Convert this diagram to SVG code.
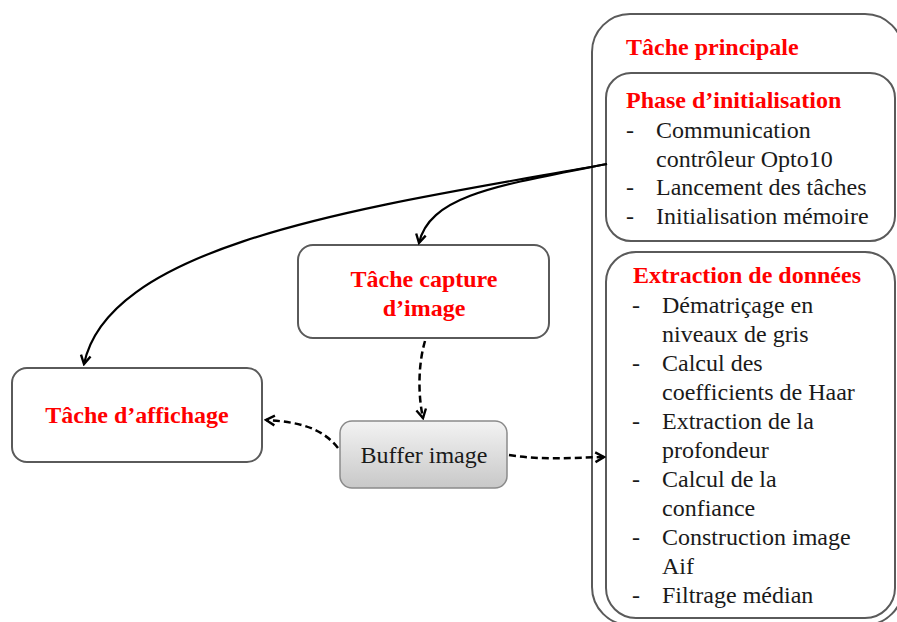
<svg xmlns="http://www.w3.org/2000/svg" width="897" height="622" viewBox="0 0 897 622">
<defs>
<style>
.box{fill:#fff;stroke:#5a5a5a;stroke-width:2}
.hd{font-family:"Liberation Serif","Times New Roman",serif;font-weight:bold;font-size:24px;fill:#ff0000}
.tx{font-family:"Liberation Serif","Times New Roman",serif;font-size:24px;fill:#1a1a1a}
.c{text-anchor:middle}
.sol{fill:none;stroke:#000;stroke-width:2.2}
.dsh{fill:none;stroke:#000;stroke-width:2.5;stroke-dasharray:7 4}
</style>
<linearGradient id="g" x1="0" y1="0" x2="0" y2="1">
<stop offset="0" stop-color="#f3f3f3"/>
<stop offset="1" stop-color="#c8c8c8"/>
</linearGradient>
<marker id="ah" viewBox="0 0 12 12" refX="10" refY="6" markerWidth="13" markerHeight="13" markerUnits="userSpaceOnUse" orient="auto">
<path d="M2,1.5 L10,6 L2,10.5" fill="none" stroke="#000" stroke-width="2.2" stroke-dasharray="none"/>
</marker>
</defs>
<rect width="897" height="622" fill="#fff"/>

<g id="tache-principale">
<rect class="box" x="592" y="14" width="311" height="611" rx="38"/>
<text class="hd" x="626" y="55">Tâche principale</text>
</g>

<g id="phase-init">
<rect class="box" x="606" y="73" width="289" height="168" rx="25"/>
<text class="hd" x="626" y="108">Phase d’initialisation</text>
<text class="tx" x="626" y="138">-</text><text class="tx" x="656" y="138">Communication</text>
<text class="tx" x="656" y="167">contrôleur Opto10</text>
<text class="tx" x="626" y="195">-</text><text class="tx" x="656" y="195">Lancement des tâches</text>
<text class="tx" x="626" y="224">-</text><text class="tx" x="656" y="224">Initialisation mémoire</text>
</g>

<g id="extraction">
<rect class="box" x="606" y="252" width="289" height="366" rx="30"/>
<text class="hd" x="633" y="283">Extraction de données</text>
<text class="tx" x="632" y="313">-</text><text class="tx" x="662" y="313">Dématriçage en</text>
<text class="tx" x="662" y="342">niveaux de gris</text>
<text class="tx" x="632" y="371">-</text><text class="tx" x="662" y="371">Calcul des</text>
<text class="tx" x="662" y="400">coefficients de Haar</text>
<text class="tx" x="632" y="429">-</text><text class="tx" x="662" y="429">Extraction de la</text>
<text class="tx" x="662" y="458">profondeur</text>
<text class="tx" x="632" y="487">-</text><text class="tx" x="662" y="487">Calcul de la</text>
<text class="tx" x="662" y="516">confiance</text>
<text class="tx" x="632" y="545">-</text><text class="tx" x="662" y="545">Construction image</text>
<text class="tx" x="662" y="574">Aif</text>
<text class="tx" x="632" y="603">-</text><text class="tx" x="662" y="603">Filtrage médian</text>
</g>

<g id="tache-capture">
<rect class="box" x="298" y="245" width="251" height="93" rx="15"/>
<text class="hd c" x="424" y="287">Tâche capture</text>
<text class="hd c" x="424" y="316">d’image</text>
</g>

<g id="tache-affichage">
<rect class="box" x="12" y="368" width="250" height="94" rx="15"/>
<text class="hd c" x="137" y="423">Tâche d’affichage</text>
</g>

<g id="buffer-image">
<rect x="340" y="421" width="167" height="67" rx="12" fill="url(#g)" stroke="#8a8a8a" stroke-width="1.5"/>
<text class="tx c" x="424" y="463">Buffer image</text>
</g>

<g id="connectors">
<path class="sol" d="M607 164 C380 205, 110 240, 84 364" marker-end="url(#ah)"/>
<path class="sol" d="M607 164 C500 185, 430 195, 419 243" marker-end="url(#ah)"/>
<path class="dsh" d="M425 341 C418 365, 418 395, 423 418" marker-end="url(#ah)"/>
<path class="dsh" d="M338 448 C322 428, 300 422, 266 420" marker-end="url(#ah)"/>
<path class="dsh" d="M509 455 C540 460, 570 458, 604 457" marker-end="url(#ah)"/>
</g>
</svg>
